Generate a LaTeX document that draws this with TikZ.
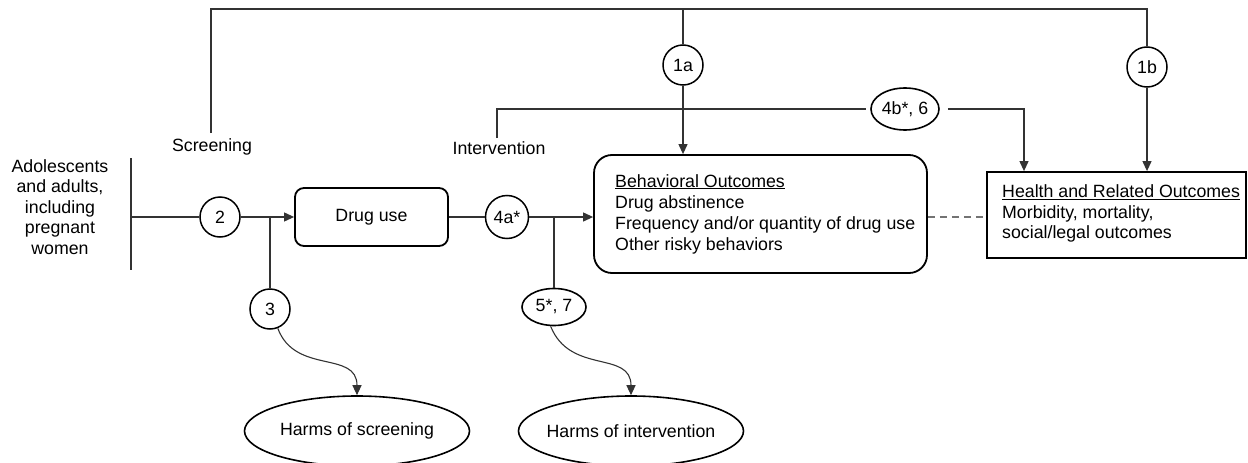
\documentclass[tikz,border=0pt]{standalone}
\usepackage{fontspec}
\setmainfont{Liberation Sans}
\usetikzlibrary{arrows.meta,shapes.geometric}
\begin{document}
\begin{tikzpicture}[x=1pt,y=-1pt,
  every node/.style={font=\fontsize{17.75}{20.5}\selectfont},
  conn/.style={draw=black!80, line width=1.1pt},
  arr/.style={conn, -{Triangle[length=10pt,width=9pt]}},
  circ/.style={draw, circle, line width=1.5pt, minimum size=40pt, inner sep=0pt},
  ell/.style={draw, ellipse, line width=1.6pt, inner sep=0pt},
  bigell/.style={ell, minimum width=225pt, minimum height=70pt, inner xsep=-10pt},
  rbox/.style={draw, line width=1.8pt, rounded corners=9pt},
  sbox/.style={draw, line width=1.8pt},
  txt/.style={inner sep=0pt},
  popbar/.style={draw=black!80, line width=1.4pt}
]
\useasboundingbox (0,0) rectangle (1248,463);

% nodes
\node[txt, align=center] (pop) at (60,207) {Adolescents\\and adults,\\including\\pregnant\\women};
\node[txt] (scr) at (212,147) {Screening};
\node[txt] (int) at (499,148) {Intervention};
\node[circ] (c2) at (220,217) {2};
\node[rbox, minimum width=153pt, minimum height=58pt] (drug) at (371.5,217) {Drug use};
\node[circ, minimum size=43pt] (c4a) at (507,217) {4a*};
\node[rbox, rounded corners=18pt, minimum width=333pt, minimum height=118pt] (beh) at (760.5,214) {};
\node[txt, anchor=west, align=left, font=\fontsize{17.75}{21}\selectfont] (behtxt) at (615,214)
  {\underline{Behavioral Outcomes}\\Drug abstinence\\Frequency and/or quantity of drug use\\Other risky behaviors};
\node[sbox, minimum width=259pt, minimum height=86pt] (hlt) at (1116.5,215) {};
\node[txt, anchor=west, align=left] (hlttxt) at (1002,213.5)
  {\underline{Health and Related Outcomes}\\Morbidity, mortality,\\social/legal outcomes};
\node[circ] (c1a) at (683,65) {1a};
\node[circ] (c1b) at (1147,67) {1b};
\node[ell, minimum width=68pt, minimum height=42pt] (e4b) at (905,109) {4b*, 6};
\node[circ] (c3) at (270,309) {3};
\node[ell, minimum width=64pt, minimum height=37pt] (e57) at (554,307) {5*, 7};
\node[bigell] (hs) at (357,431) {Harms of screening};
\node[bigell] (hi) at (631,431) {Harms of intervention};

% free ends
\coordinate (scrTop) at (211,133);
\coordinate (topMid) at (683,9);
\coordinate (intTop) at (497,138);
\coordinate (barT) at (131,158);
\coordinate (barB) at (131,270);

% connectors
\draw[conn] (scrTop) |- (topMid) -| (c1b.north);
\draw[conn] (topMid) -- (c1a.north);
\draw[arr] (c1a.south) -- (beh.north -| c1a.south);
\draw[arr] (c1b.south) -- (hlt.north -| c1b.south);
\draw[conn] (intTop) |- ([xshift=-4pt]e4b.west);
\draw[arr] ([xshift=8pt]e4b.east) -| ([xshift=-92.5pt]hlt.north);

\draw[popbar] (barT) -- (barB);
\draw[conn] (barT |- c2.west) -- (c2.west);
\draw[arr] (c2.east) -- (drug.west);
\draw[conn] (c3.north |- c2.east) -- (c3.north);
\draw[conn] (drug.east) -- (c4a.west);
\draw[arr] (c4a.east) -- (beh.west |- c4a.east);
\draw[conn] (e57.north |- c4a.east) -- (e57.north);
\draw[draw=black!55, line width=1.1pt, dash pattern=on 7pt off 5pt] (beh.east |- c4a.east) -- (hlt.west |- c4a.east);

\draw[arr] (c3.-68) .. controls (295,375) and (357,350) .. (hs.north);
\draw[arr] (e57.-100) .. controls (570,375) and (631,350) .. (hi.north);
\end{tikzpicture}
\end{document}
